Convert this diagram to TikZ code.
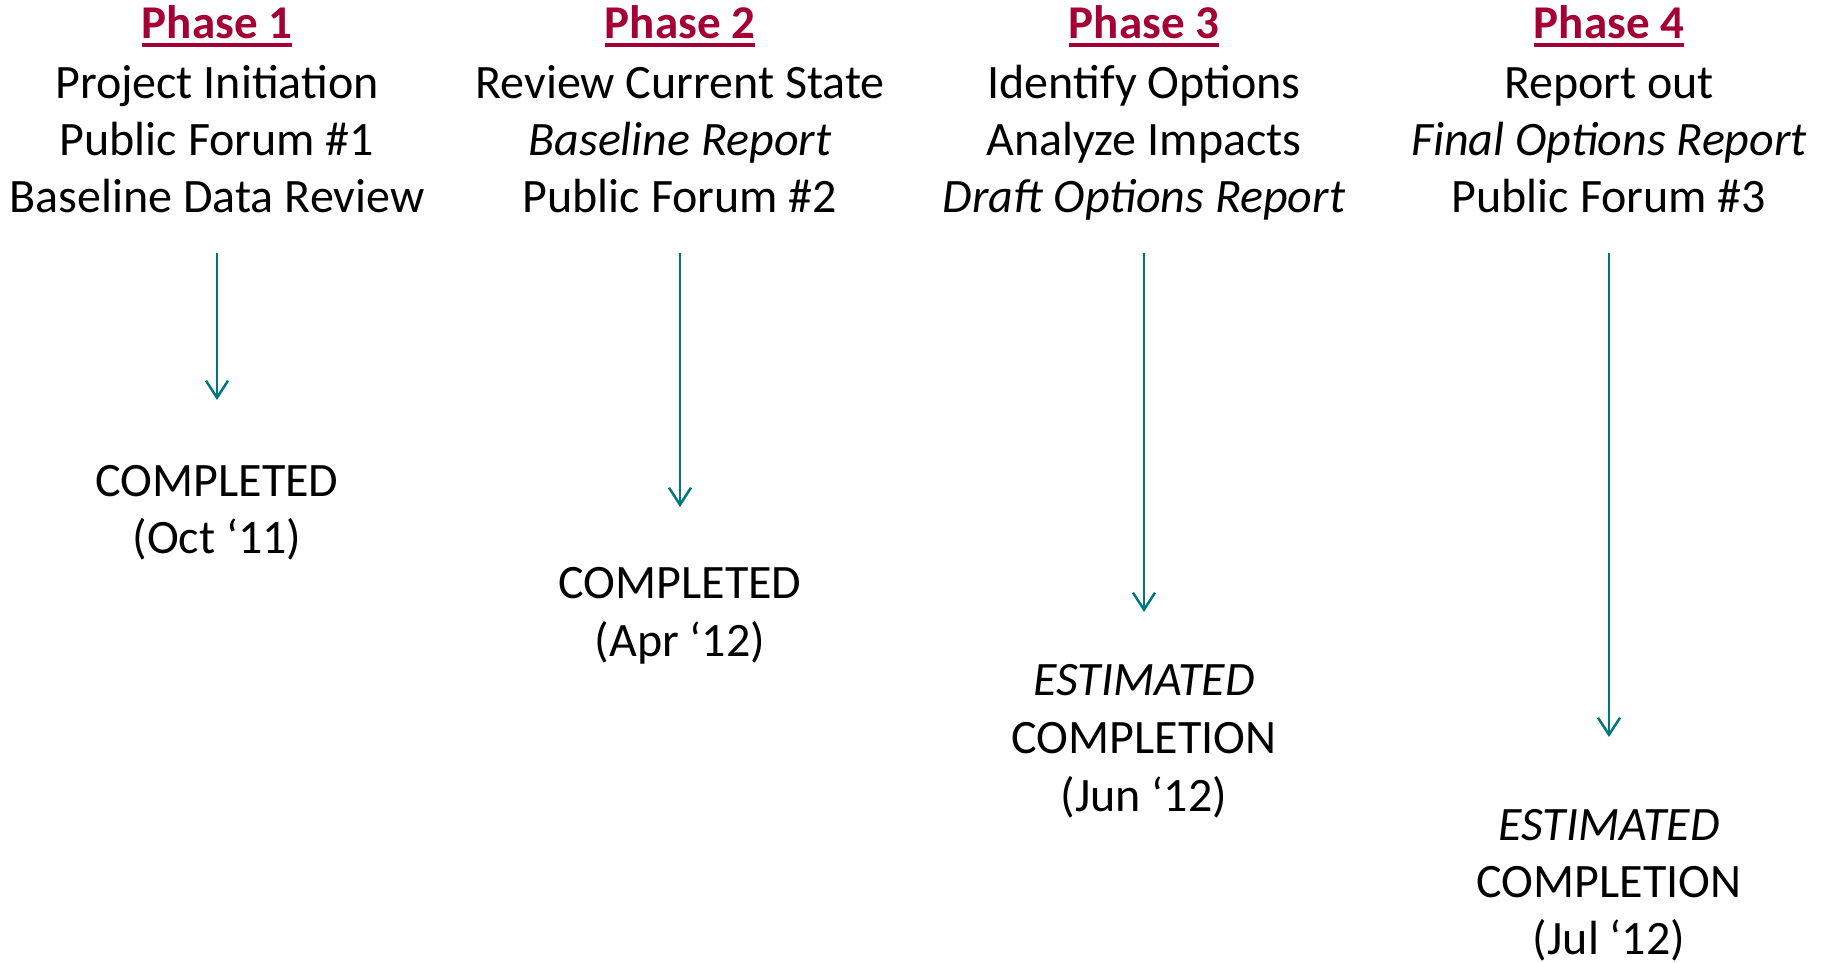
\documentclass[tikz,border=0pt]{standalone}
\usepackage{fontspec}
\setmainfont{Carlito}
\usetikzlibrary{arrows.meta}
\definecolor{phasered}{RGB}{165,0,52}
\definecolor{arrowteal}{RGB}{0,119,122}
\begin{document}
\begin{tikzpicture}[x=1pt,y=-1pt,
  txt/.style={anchor=base,inner sep=0pt,font=\fontsize{48}{57}\selectfont},
  ph/.style={anchor=base,inner sep=0pt,font=\fontsize{47}{57}\selectfont\bfseries,text=phasered},
  uline/.style={draw=phasered,line width=3.5pt},
  conn/.style={draw=arrowteal,line width=2.5pt,-{Straight Barb[length=17pt,width=22pt]}}]
\useasboundingbox (0,0) rectangle (1829,962);

% headings
\foreach \i/\x in {1/217,2/680,3/1144,4/1609}{
  \node[ph] (p\i) at (\x,38) {Phase \i};
  \draw[uline] ([yshift=-7pt]p\i.base west) -- ([yshift=-7pt]p\i.base east);
}

% column 1
\node[txt] (a1) at (217,98) {Project Initiation};
\node[txt] (a2) at (217,155) {Public Forum \#1};
\node[txt] (a3) at (217,212) {Baseline Data Review};
\coordinate (s1) at (217,253);
\coordinate (e1) at (217,400);
\draw[conn] (s1) -- (e1);
\node[txt] (d1) at (217,496) {COMPLETED};
\node[txt] (d2) at (217,553) {(Oct ‘11)};

% column 2
\node[txt] (b1) at (680,98) {Review Current State};
\node[txt] (b2) at (680,155) {\itshape Baseline Report};
\node[txt] (b3) at (680,212) {Public Forum \#2};
\coordinate (s2) at (680,253);
\coordinate (e2) at (680,507);
\draw[conn] (s2) -- (e2);
\node[txt] (f1) at (680,598) {COMPLETED};
\node[txt] (f2) at (680,656) {(Apr ‘12)};

% column 3
\node[txt] (c1) at (1144,98) {Identify Options};
\node[txt] (c2) at (1144,155) {Analyze Impacts};
\node[txt] (c3) at (1144,212) {\itshape Draft Options Report};
\coordinate (s3) at (1144,253);
\coordinate (e3) at (1144,612);
\draw[conn] (s3) -- (e3);
\node[txt] (g1) at (1144,695) {\itshape ESTIMATED};
\node[txt] (g2) at (1144,753) {COMPLETION};
\node[txt] (g3) at (1144,811) {(Jun ‘12)};

% column 4
\node[txt] (h1) at (1609,98) {Report out};
\node[txt] (h2) at (1609,155) {\itshape Final Options Report};
\node[txt] (h3) at (1609,212) {Public Forum \#3};
\coordinate (s4) at (1609,253);
\coordinate (e4) at (1609,737);
\draw[conn] (s4) -- (e4);
\node[txt] (k1) at (1609,840) {\itshape ESTIMATED};
\node[txt] (k2) at (1609,897) {COMPLETION};
\node[txt] (k3) at (1609,954) {(Jul ‘12)};
\end{tikzpicture}
\end{document}
